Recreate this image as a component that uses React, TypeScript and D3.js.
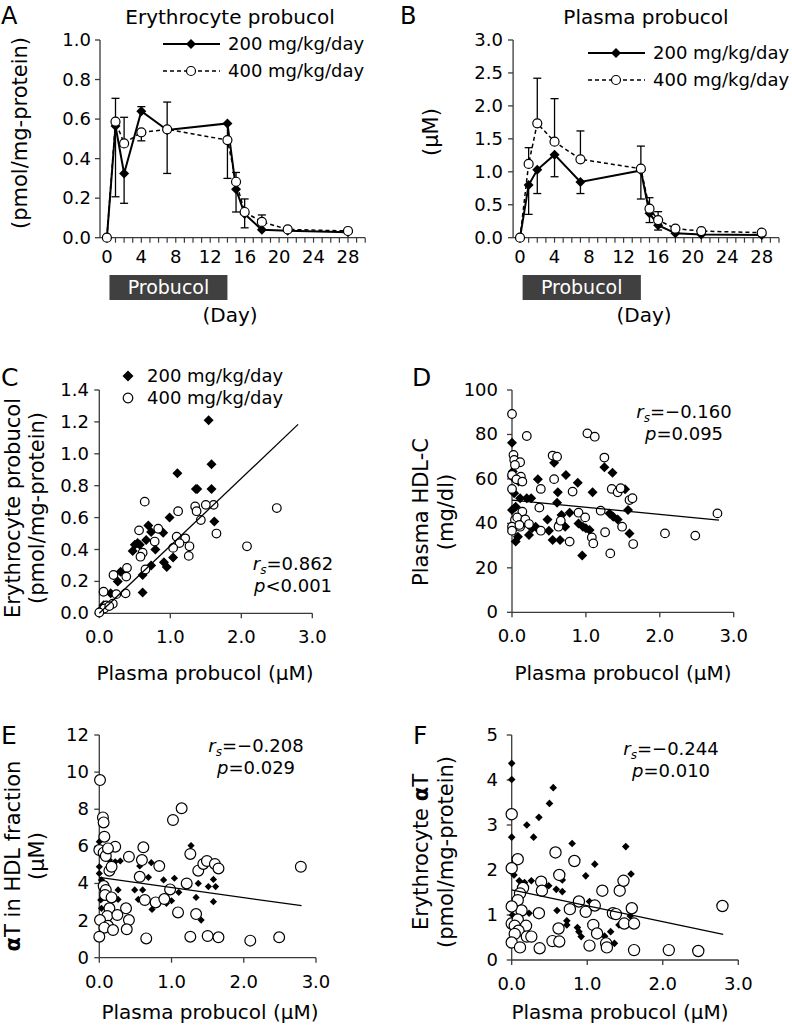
import React from "react";
import * as d3 from "d3";

const FONT = "'DejaVu Sans', Verdana, sans-serif";

// ---------- Time course data (panels A, B) ----------
const days = [0, 1, 2, 4, 7, 14, 15, 16, 18, 21, 28];
const dayTickLabels = [0, 4, 8, 12, 16, 20, 24, 28];
const dayMinorTicks = d3.range(0, 31);
const probucolPeriod = [0.3, 14];

const eryProb200 = [0, 0.565, 0.325, 0.64, 0.545, 0.578, 0.245, 0.12, 0.04, 0.035, 0.027];
const eryProb400 = [0, 0.587, 0.477, 0.533, 0.548, 0.494, 0.283, 0.13, 0.08, 0.042, 0.034];
// signed SD: positive drawn upward, negative drawn downward
const eryErr200 = [0, -0.358, -0.151, 0.023, -0.22, -0.278, -0.115, -0.07, 0, 0, 0];
const eryErr400 = [0, 0.118, 0.132, -0.043, 0.138, 0, 0.047, 0.066, 0.035, 0, 0];

const plaProb200 = [0, 0.8, 1.03, 1.26, 0.845, 1.02, 0.37, 0.19, 0.066, 0.05, 0.04];
const plaProb400 = [0, 1.12, 1.735, 1.457, 1.19, 1.047, 0.44, 0.268, 0.137, 0.1, 0.076];
const plaErr200 = [0, -0.446, -0.36, -0.335, -0.175, -0.433, -0.14, -0.074, 0, 0, 0];
const plaErr400 = [0, 0.246, 0.685, 0.653, 0.43, 0.343, 0.167, 0.127, 0, 0, 0];

const aTicks = [0, 0.2, 0.4, 0.6, 0.8, 1.0];
const bTicks = [0, 0.5, 1.0, 1.5, 2.0, 2.5, 3.0];
const scatterXTicks = [0, 1, 2, 3];

// ---------- Scatter data (panels C-F): [plasma probucol, value] ----------
const c200 = [[1.54,1.21],[1.58,0.934],[1.10,0.878],[1.36,0.78],[1.38,0.78],[1.58,0.78],[1.62,0.575],[0.99,0.60],[0.69,0.55],[0.73,0.51],[0.90,0.505],[0.66,0.46],[0.54,0.44],[0.50,0.43],[0.57,0.43],[0.47,0.39],[0.79,0.40],[1.04,0.35],[0.91,0.32],[0.95,0.29],[0.73,0.30],[0.61,0.24],[0.61,0.13],[0.30,0.26],[0.26,0.20],[0.16,0.125],[0.06,0.05],[0.02,0.02]];
const c400 = [[2.50,0.66],[2.08,0.42],[1.65,0.50],[1.61,0.68],[1.50,0.68],[1.35,0.67],[1.37,0.64],[1.43,0.585],[1.11,0.64],[0.64,0.70],[1.09,0.48],[1.21,0.47],[1.13,0.44],[1.04,0.41],[1.27,0.42],[1.26,0.36],[0.83,0.53],[0.56,0.52],[0.78,0.45],[0.61,0.38],[0.58,0.355],[0.65,0.275],[0.39,0.285],[0.38,0.23],[0.20,0.24],[0.37,0.125],[0.24,0.12],[0.06,0.135],[0.19,0.06],[0.10,0.05],[0.07,0.03],[0.0,0.005],[0.14,0.045]];
const cTicks = [0, 0.2, 0.4, 0.6, 0.8, 1.0, 1.2, 1.4];
const cFit = { x0: 0, x1: 2.8, intercept: 0.0, slope: 0.423 };

const d200 = [[0,76.3],[0.01,63.3],[0,61],[0.09,58.8],[0.03,53.5],[0.11,51.3],[0.20,51.3],[0.26,51.3],[0,46],[0.05,47.5],[0.05,31.8],[0.08,34],[0.23,34.8],[0.27,37.8],[0.32,38.5],[0.35,59.8],[0.57,67.3],[0.73,61.8],[0.62,54],[0.61,49.3],[0.48,41.8],[0.50,36.7],[0.55,32.5],[0.65,32.5],[0.67,43.8],[0.72,38.5],[0.78,44.8],[0.89,58.3],[0.90,40],[0.96,38.5],[1.0,37.8],[1.05,37],[0.95,25.6],[1.09,54],[1.25,65.2],[1.36,62.8],[1.32,44.5],[1.37,43],[1.43,41.8],[1.53,55.3],[1.57,46],[1.59,35.5]];
const d400 = [[0,89.2],[0.20,79.3],[1.02,80.5],[1.12,79],[0.02,70.8],[0.03,68.5],[0.11,67.5],[0.04,66.3],[0.55,70.5],[0.61,70],[1.25,69.6],[0,61.8],[0.12,61],[0.06,59.8],[0.14,58.8],[0.57,59.9],[0.39,55.5],[0,55.5],[0.82,54.3],[1.35,55.5],[1.43,54],[1.47,55.8],[1.59,50.5],[1.63,51.3],[1.20,45.7],[0.37,47.1],[0.14,45.3],[0.04,41.5],[0.07,42.7],[0.18,41.8],[0.23,39.7],[0,38.5],[0,36.7],[0.11,38.5],[0.10,39.3],[0.39,36.7],[0.64,39.3],[0.63,38.5],[0.66,41.2],[0.90,44.8],[0.99,42.7],[1.08,33.7],[1.10,31],[0.78,31.8],[1.26,36],[1.33,26.5],[1.49,38.5],[1.64,30.7],[2.07,35.5],[2.48,34.5],[2.78,44.5]];
const dTicks = [0, 20, 40, 60, 80, 100];
const dFit = { x0: 0, x1: 2.8, intercept: 50.5, slope: -3.24 };

const e200 = [[0,6.25],[0,4.54],[0,4.9],[0.03,4.19],[0.03,2.66],[0.02,3.11],[0.29,5.21],[0.26,3.65],[0.26,3.14],[0.22,5.17],[0.56,4.94],[0.72,5.12],[0.68,4.33],[0.49,3.65],[0.60,3.65],[0.54,3.14],[0.73,2.6],[0.89,4.19],[1.04,4.28],[1.10,3.52],[1.0,3.07],[0.93,2.93],[1.27,6.04],[1.37,4.0],[1.34,3.25],[1.41,2.03],[1.51,3.83],[1.58,4.22],[1.61,3.83],[1.58,3.02],[0.14,5.26]];
const e400 = [[0.01,9.57],[0.05,7.56],[0.06,7.29],[0.07,6.52],[0,5.8],[0.06,5.66],[0.22,5.98],[0.09,5.48],[0.12,5.89],[0.41,5.44],[0.61,5.95],[0.59,5.26],[0.83,4.94],[0.14,4.69],[0.17,4.9],[1.02,7.42],[1.14,8.05],[1.26,5.59],[1.37,4.69],[1.44,5.05],[1.49,5.21],[1.60,5.05],[1.65,4.81],[2.79,4.9],[1.21,4.0],[0.98,3.68],[0.56,4.36],[0.06,3.86],[0.09,3.65],[0.08,3.38],[0.17,3.25],[0.63,3.11],[0.78,2.98],[0.90,3.16],[1.09,2.44],[1.34,2.35],[0.14,2.66],[0.11,2.25],[0.25,2.3],[0.37,2.66],[0.41,2.03],[0.01,2.03],[0.12,1.72],[0.07,1.62],[0.19,1.49],[0.38,1.53],[0,1.13],[0.65,1.04],[1.26,1.13],[1.50,1.17],[1.65,1.1],[2.09,0.92],[2.49,1.1]];
const eTicks = [0, 2, 4, 6, 8, 10, 12];
const eFit = { x0: 0, x1: 2.8, intercept: 4.33, slope: -0.546 };

const f200 = [[0,4.37],[0,4.01],[0.55,3.83],[0.50,3.48],[0.36,3.17],[0.20,3.0],[0.29,2.73],[0,2.73],[0.80,2.59],[1.51,2.52],[1.10,2.13],[1.58,1.91],[0.98,1.87],[0.03,1.89],[0.10,1.76],[0.17,1.72],[0.26,1.76],[0.67,1.78],[0.49,1.65],[0.59,1.57],[0.67,1.52],[0.23,1.04],[0.01,1.0],[0.60,1.1],[1.03,1.3],[0.73,0.87],[0.73,0.78],[0.87,0.72],[0.92,0.52],[0.89,0.63],[1.23,0.53],[1.31,0.63],[1.36,0.37],[1.42,0.78],[1.57,0.98]];
const f400 = [[0,3.24],[0.08,2.24],[0,2.04],[0.58,2.39],[0.83,2.2],[0.63,1.89],[0.39,1.74],[0.40,1.54],[0.15,1.6],[0.11,1.48],[0.08,1.33],[1.20,1.54],[1.43,1.54],[1.48,1.76],[0.89,1.3],[1.10,1.21],[0.98,1.07],[1.59,1.15],[0.77,1.13],[0.36,1.04],[0.13,1.1],[0,1.19],[2.79,1.2],[1.34,1.04],[1.38,1.02],[1.08,0.78],[0.62,0.7],[0,0.81],[0.08,0.9],[0.04,0.76],[0.19,0.76],[0.09,0.65],[0.04,0.58],[0.20,0.52],[0.26,0.52],[1.13,0.59],[1.49,0.81],[1.62,0.81],[0,0.39],[0.11,0.28],[0.37,0.26],[0.54,0.42],[0.63,0.41],[1.03,0.32],[1.25,0.37],[1.26,0.28],[1.62,0.22],[2.08,0.22],[2.47,0.2]];
const fTicks = [0, 1, 2, 3, 4, 5];
const fFit = { x0: 0, x1: 2.8, intercept: 1.556, slope: -0.352 };

const legend200 = "200 mg/kg/day";
const legend400 = "400 mg/kg/day";
const xTitle = "Plasma probucol (\u03bcM)";

const AXIS = "#3a3a3a";

const diamondPath = (r: number) => `M0,${-r}L${r},0L0,${r}L${-r},0Z`;

function Diamond({ x, y, r }: { x: number; y: number; r: number }) {
  return <path d={diamondPath(r)} transform={`translate(${x},${y})`} fill="#000" />;
}
function Circle({ x, y, r }: { x: number; y: number; r: number }) {
  return <circle cx={x} cy={y} r={r} fill="#fff" stroke="#000" strokeWidth={1.2} />;
}

function YAxis({ scale, x, ticks, fmt, labelX }: any) {
  const [r0, r1] = scale.range();
  return (
    <g>
      <line x1={x} x2={x} y1={r0} y2={r1} stroke={AXIS} strokeWidth={1.3} />
      {ticks.map((t: number) => (
        <g key={t}>
          <line x1={x - 5} x2={x} y1={scale(t)} y2={scale(t)} stroke={AXIS} strokeWidth={1.3} />
          <text x={labelX} y={scale(t) + 6} textAnchor="end" fontSize={18} fontFamily={FONT}>
            {fmt(t)}
          </text>
        </g>
      ))}
    </g>
  );
}

function TimePanel(props: any) {
  const { xr, yr, yDomain, yTicks, yFmt, s200, s400, e200, e400, labelX } = props;
  const x = d3.scaleLinear().domain([-0.8, 30]).range(xr);
  const y = d3.scaleLinear().domain(yDomain).range(yr);
  const line = d3.line<number>().x((_, i) => x(days[i])).y((d) => y(d));
  const base = y(0);
  const errBars = (vals: number[], errs: number[]) =>
    errs.map((e, i) =>
      e === 0 ? null : (
        <g key={i}>
          <line x1={x(days[i])} x2={x(days[i])} y1={y(vals[i])} y2={y(vals[i] + e)} stroke="#000" strokeWidth={1.3} />
          <line x1={x(days[i]) - 4} x2={x(days[i]) + 4} y1={y(vals[i] + e)} y2={y(vals[i] + e)} stroke="#000" strokeWidth={1.3} />
        </g>
      )
    );
  return (
    <g>
      <text x={props.letterX} y={24} fontSize={24} fontFamily={FONT}>{props.letter}</text>
      <text x={props.titleX} y={24} textAnchor="middle" fontSize={20} fontFamily={FONT}>{props.title}</text>
      <text transform={`translate(${props.yTitleX},${props.yTitleY}) rotate(-90)`} textAnchor="middle" fontSize={21} fontFamily={FONT}>
        {props.yTitle}
      </text>
      <YAxis scale={y} x={xr[0]} ticks={yTicks} fmt={yFmt} labelX={labelX} />
      <line x1={xr[0]} x2={xr[1]} y1={base} y2={base} stroke={AXIS} strokeWidth={1.3} />
      {dayMinorTicks.map((d) => (
        <line key={d} x1={x(d)} x2={x(d)} y1={base} y2={base + 5} stroke={AXIS} strokeWidth={1.2} />
      ))}
      {dayTickLabels.map((d) => (
        <text key={d} x={x(d)} y={base + 25} textAnchor="middle" fontSize={18} fontFamily={FONT}>{d}</text>
      ))}
      {/* probucol bar */}
      <rect x={x(probucolPeriod[0])} width={x(probucolPeriod[1]) - x(probucolPeriod[0])} y={275} height={25} fill="#404040" />
      <text x={(x(probucolPeriod[0]) + x(probucolPeriod[1])) / 2} y={294} textAnchor="middle" fontSize={19} fill="#fff" fontFamily={FONT}>Probucol</text>
      <text x={props.dayX} y={322} textAnchor="middle" fontSize={20} fontFamily={FONT}>(Day)</text>
      {/* series */}
      {errBars(s200, e200)}
      {errBars(s400, e400)}
      <path d={line(s200) || ""} fill="none" stroke="#000" strokeWidth={2} />
      {s200.map((v: number, i: number) => <Diamond key={i} x={x(days[i])} y={y(v)} r={5} />)}
      <path d={line(s400) || ""} fill="none" stroke="#000" strokeWidth={1.5} strokeDasharray="4,3" />
      {s400.map((v: number, i: number) => <Circle key={i} x={x(days[i])} y={y(v)} r={4.5} />)}
      {/* legend */}
      <line x1={props.legX} x2={props.legX + 57} y1={props.legY} y2={props.legY} stroke="#000" strokeWidth={2} />
      <Diamond x={props.legX + 28} y={props.legY} r={5} />
      <text x={props.legX + 65} y={props.legY + 6} fontSize={18} fontFamily={FONT}>{legend200}</text>
      <line x1={props.legX} x2={props.legX + 57} y1={props.legY + 27} y2={props.legY + 27} stroke="#000" strokeWidth={1.5} strokeDasharray="4,3" />
      <Circle x={props.legX + 28} y={props.legY + 27} r={4.5} />
      <text x={props.legX + 65} y={props.legY + 33} fontSize={18} fontFamily={FONT}>{legend400}</text>
    </g>
  );
}

function Stat({ x, y, rs, p, pOp }: any) {
  return (
    <g fontFamily={FONT} fontSize={18}>
      <text x={x} y={y} textAnchor="middle">
        <tspan fontStyle="italic">r</tspan>
        <tspan fontStyle="italic" fontSize={12} dy={4}>s</tspan>
        <tspan dy={-4}>={rs}</tspan>
      </text>
      <text x={x} y={y + 22} textAnchor="middle">
        <tspan fontStyle="italic">p</tspan>
        <tspan>{pOp}{p}</tspan>
      </text>
    </g>
  );
}

function ScatterPanel(props: any) {
  const { xr, yr, yDomain, yTicks, yFmt, s200, s400, fit, dR, cR } = props;
  const x = d3.scaleLinear().domain([0, 3]).range(xr);
  const y = d3.scaleLinear().domain(yDomain).range(yr);
  const base = yr[0];
  const fmtX = d3.format(".1f");
  return (
    <g>
      <text x={props.letterX} y={props.letterY} fontSize={25} fontFamily={FONT}>{props.letter}</text>
      <g fontFamily={FONT} fontSize={21}>
        {props.yTitles.map((t: any, i: number) => (
          <text key={i} transform={`translate(${props.yTitleXs[i]},${props.yTitleY}) rotate(-90)`} textAnchor="middle">{t}</text>
        ))}
      </g>
      <YAxis scale={y} x={xr[0]} ticks={yTicks} fmt={yFmt} labelX={props.labelX} />
      <line x1={xr[0]} x2={xr[1]} y1={base} y2={base} stroke={AXIS} strokeWidth={1.3} />
      {scatterXTicks.map((t) => (
        <g key={t}>
          <line x1={x(t)} x2={x(t)} y1={base} y2={base + 5} stroke={AXIS} strokeWidth={1.3} />
          <text x={x(t)} y={base + 30} textAnchor="middle" fontSize={18} fontFamily={FONT}>{fmtX(t)}</text>
        </g>
      ))}
      <text x={props.xTitleX} y={props.xTitleY} textAnchor="middle" fontSize={20} fontFamily={FONT}>{xTitle}</text>
      {s200.map((d: number[], i: number) => <Diamond key={"d" + i} x={x(d[0])} y={y(d[1])} r={dR} />)}
      {s400.map((d: number[], i: number) => <Circle key={"c" + i} x={x(d[0])} y={y(d[1])} r={cR} />)}
      <line x1={x(fit.x0)} x2={x(fit.x1)} y1={y(fit.intercept + fit.slope * fit.x0)} y2={y(fit.intercept + fit.slope * fit.x1)} stroke="#000" strokeWidth={1.3} />
      <Stat x={props.statX} y={props.statY} rs={props.rs} p={props.p} pOp={props.pOp} />
    </g>
  );
}

export default function App() {
  const f1 = d3.format(".1f");
  const f0 = d3.format("d");
  return (
    <svg width={792} height={1026} style={{ position: "absolute", left: 0, top: 0, background: "#fff" }}>
      <rect width={792} height={1026} fill="#fff" />
      <TimePanel
        xr={[100, 365.2]} yr={[237.7, 40]} yDomain={[0, 1]} yTicks={aTicks} yFmt={f1} labelX={91}
        s200={eryProb200} s400={eryProb400} e200={eryErr200} e400={eryErr400}
        letter="A" letterX={1} title="Erythrocyte probucol" titleX={230}
        yTitle="(pmol/mg-protein)" yTitleX={27} yTitleY={133}
        legX={163} legY={44} dayX={230}
      />
      <TimePanel
        xr={[513.1, 779]} yr={[237.7, 40]} yDomain={[0, 3]} yTicks={bTicks} yFmt={f1} labelX={503}
        s200={plaProb200} s400={plaProb400} e200={plaErr200} e400={plaErr400}
        letter="B" letterX={400} title="Plasma probucol" titleX={646}
        yTitle={"(\u03bcM)"} yTitleX={438} yTitleY={132}
        legX={588} legY={53} dayX={644}
      />
      <ScatterPanel
        xr={[99.3, 312.3]} yr={[613.3, 390]} yDomain={[0, 1.4]} yTicks={cTicks} yFmt={f1} labelX={89}
        s200={c200} s400={c400} fit={cFit} dR={5} cR={4.3}
        letter="C" letterX={1} letterY={386}
        yTitles={["Erythrocyte probucol", "(pmol/mg-protein)"]} yTitleXs={[20, 44]} yTitleY={508}
        xTitleX={205} xTitleY={680}
        statX={293} statY={570} rs="0.862" p="0.001" pOp="<"
      />
      <g>
        <Diamond x={128} y={376} r={5.5} />
        <text x={147} y={382} fontSize={18} fontFamily={FONT}>{legend200}</text>
        <Circle x={128} y={398} r={4.8} />
        <text x={147} y={404} fontSize={18} fontFamily={FONT}>{legend400}</text>
      </g>
      <ScatterPanel
        xr={[512, 733.7]} yr={[612.3, 390]} yDomain={[0, 100]} yTicks={dTicks} yFmt={f0} labelX={498}
        s200={d200} s400={d400} fit={dFit} dR={5} cR={4.3}
        letter="D" letterX={412} letterY={386}
        yTitles={["Plasma HDL-C", "(mg/dl)"]} yTitleXs={[428, 453]} yTitleY={512}
        xTitleX={623} xTitleY={680}
        statX={684} statY={418} rs={"\u22120.160"} p="0.095" pOp="="
      />
      <ScatterPanel
        xr={[99.3, 316]} yr={[957.7, 735]} yDomain={[0, 12]} yTicks={eTicks} yFmt={f0} labelX={89}
        s200={e200} s400={e400} fit={eFit} dR={3.6} cR={5.4}
        letter="E" letterX={1} letterY={744}
        yTitles={[<><tspan fontWeight="bold">{"\u03b1"}</tspan>{"T in HDL fraction"}</>, "(\u03bcM)"]} yTitleXs={[20, 44]} yTitleY={856}
        xTitleX={210} xTitleY={1019}
        statX={256} statY={752} rs={"\u22120.208"} p="0.029" pOp="="
      />
      <ScatterPanel
        xr={[511.7, 738.3]} yr={[960, 735]} yDomain={[0, 5]} yTicks={fTicks} yFmt={f0} labelX={498}
        s200={f200} s400={f400} fit={fFit} dR={3.8} cR={5.6}
        letter="F" letterX={413} letterY={744}
        yTitles={[<>{"Erythrocyte "}<tspan fontWeight="bold">{"\u03b1"}</tspan>{"T"}</>, "(pmol/mg-protein)"]} yTitleXs={[428, 453]} yTitleY={852}
        xTitleX={620} xTitleY={1019}
        statX={671} statY={755} rs={"\u22120.244"} p="0.010" pOp="="
      />
    </svg>
  );
}
